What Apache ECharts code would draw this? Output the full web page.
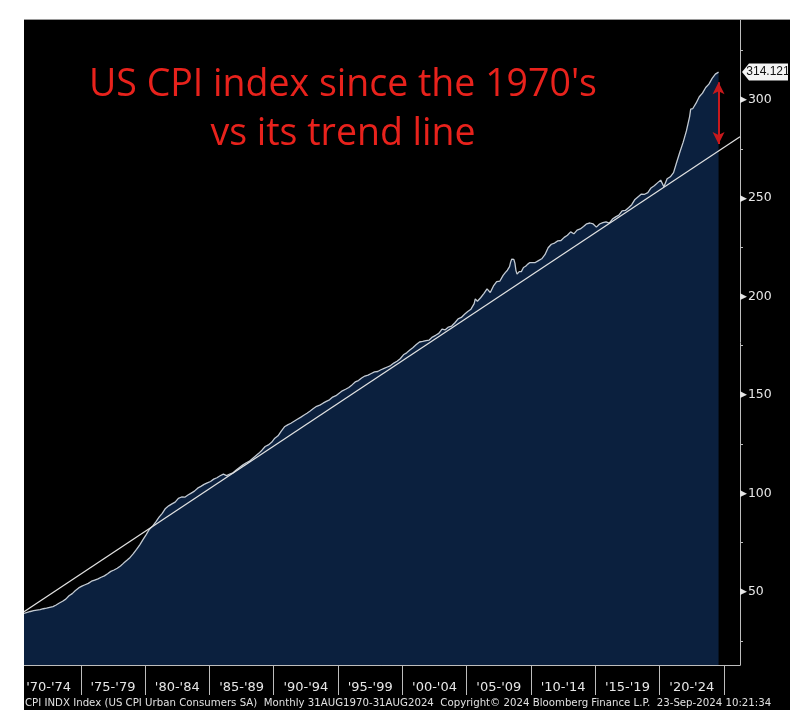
<!DOCTYPE html>
<html><head><meta charset="utf-8">
<script src="https://cdn.jsdelivr.net/npm/echarts@6/dist/echarts.min.js"></script>
<style>
html,body{margin:0;padding:0;background:#fff;}
#wrap{position:relative;width:800px;height:722px;background:#fff;overflow:hidden;}
#chart{position:absolute;left:24px;top:20px;width:766px;height:690px;background:#000;box-shadow:0 -1px 0 #9a9a9a;}
</style></head><body>
<div id="wrap"><div id="chart"></div></div>
<script>
// ---- data ----
const dates = [
'1970-08','1970-11',
'1971-02','1971-05','1971-08','1971-11','1972-02','1972-05','1972-08','1972-11',
'1973-02','1973-05','1973-08','1973-11','1974-02','1974-05','1974-08','1974-11',
'1975-02','1975-05','1975-08','1975-11','1976-02','1976-05','1976-08','1976-11',
'1977-02','1977-05','1977-08','1977-11','1978-02','1978-05','1978-08','1978-11',
'1979-02','1979-05','1979-08','1979-11','1980-02','1980-05','1980-08','1980-11',
'1981-02','1981-05','1981-08','1981-11','1982-02','1982-05','1982-08','1982-11',
'1983-02','1983-05','1983-08','1983-11','1984-02','1984-05','1984-08','1984-11',
'1985-02','1985-05','1985-08','1985-11','1986-02','1986-05','1986-08','1986-11',
'1987-02','1987-05','1987-08','1987-11','1988-02','1988-05','1988-08','1988-11',
'1989-02','1989-05','1989-08','1989-11','1990-02','1990-05','1990-08','1990-11',
'1991-02','1991-05','1991-08','1991-11','1992-02','1992-05','1992-08','1992-11',
'1993-02','1993-05','1993-08','1993-11','1994-02','1994-05','1994-08','1994-11',
'1995-02','1995-05','1995-08','1995-11','1996-02','1996-05','1996-08','1996-11',
'1997-02','1997-05','1997-08','1997-11','1998-02','1998-05','1998-08','1998-11',
'1999-02','1999-05','1999-08','1999-11','2000-02','2000-05','2000-08','2000-11',
'2001-02','2001-05','2001-08','2001-11','2002-02','2002-05','2002-08','2002-11',
'2003-02','2003-05','2003-08','2003-11','2004-02','2004-05','2004-08','2004-11',
'2005-02','2005-05','2005-08','2005-09','2005-10','2005-11',
'2006-02','2006-05','2006-08','2006-11','2007-02','2007-05','2007-08','2007-11',
'2008-01','2008-02','2008-03','2008-04','2008-05','2008-06','2008-07','2008-08','2008-09','2008-10','2008-11','2008-12',
'2009-01','2009-02','2009-03','2009-04','2009-05','2009-06','2009-07','2009-08','2009-09','2009-10','2009-11','2009-12',
'2010-02','2010-05','2010-08','2010-11','2011-02','2011-05','2011-08','2011-11',
'2012-02','2012-05','2012-08','2012-11','2013-02','2013-05','2013-08','2013-11',
'2014-02','2014-05','2014-08','2014-11','2015-02','2015-05','2015-08','2015-11',
'2016-02','2016-05','2016-08','2016-11','2017-02','2017-05','2017-08','2017-11',
'2018-02','2018-05','2018-08','2018-11','2019-02','2019-05','2019-08','2019-11',
'2020-02','2020-05','2020-08','2020-11','2021-02','2021-05','2021-08','2021-11',
'2022-02','2022-05','2022-06','2022-08','2022-11','2023-02','2023-05','2023-08','2023-11',
'2024-02','2024-05','2024-08'
];
const cpi = [
38.9,39.4,
39.9,40.3,40.6,40.8,41.3,41.6,42.0,42.4,
43.2,44.2,45.1,46.2,47.9,49.0,50.6,51.9,
52.8,53.5,54.2,55.3,55.9,56.5,57.3,58.0,
59.1,60.3,61.0,61.9,63.0,64.5,65.9,67.4,
69.3,71.5,73.8,76.4,79.0,81.7,83.3,85.5,
87.9,89.8,92.3,93.6,94.6,95.5,97.4,98.1,
98.0,99.1,100.1,101.1,102.6,103.5,104.5,105.3,
106.0,107.2,107.9,108.9,109.7,109.0,109.8,110.4,
111.8,113.1,114.3,115.4,116.2,117.6,119.0,120.3,
121.9,123.8,124.6,125.9,128.0,129.2,131.6,133.8,
134.8,135.6,136.6,137.6,138.6,139.7,140.7,141.8,
143.1,144.2,144.8,145.8,146.7,147.5,148.9,149.6,
150.9,152.1,152.9,153.8,155.1,156.6,157.3,158.6,
159.6,160.1,160.9,161.7,161.9,162.8,163.5,164.2,
164.9,166.2,167.1,168.4,170.4,171.4,172.8,174.1,
175.6,176.9,177.2,177.6,177.9,179.4,180.3,181.3,
183.5,183.1,184.5,185.0,186.7,188.7,189.4,191.0,
192.4,193.6,196.4,198.8,199.2,197.6,
199.4,201.5,203.9,202.1,205.4,207.6,207.9,210.8,
212.2,212.7,213.4,213.9,215.2,217.5,219.0,218.7,218.9,217.0,213.2,211.4,
211.9,212.7,212.5,212.7,213.0,214.8,214.7,215.4,215.9,216.5,217.2,217.3,
217.3,217.3,218.3,219.2,221.3,224.8,226.6,227.2,
228.3,228.5,230.1,231.2,232.9,231.9,233.8,234.4,
235.6,237.0,237.4,236.9,235.3,236.9,237.6,238.0,
237.3,239.4,240.5,241.4,243.6,243.8,245.2,246.7,
249.4,250.8,252.1,252.0,252.8,255.2,256.3,257.8,
259.2,255.8,259.9,260.9,263.0,268.4,273.6,278.5,
284.2,291.5,295.3,295.6,298.3,301.6,303.4,306.3,308.0,
310.9,313.1,314.121
];
const trendDates = ['1970-08','2026-04'];
const trendValues = [39.8, 281.2];
const periodLabels = ["'70-'74","'75-'79","'80-'84","'85-'89","'90-'94","'95-'99","'00-'04","'05-'09","'10-'14","'15-'19","'20-'24"];
const periodStarts = [1970,1975,1980,1985,1990,1995,2000,2005,2010,2015,2020];
const periodBoundaries = [1975,1980,1985,1990,1995,2000,2005,2010,2015,2020,2025];
const yLabelValues = [50,100,150,200,250,300];
const yTickValues = [25,50,75,100,125,150,175,200,225,250,275,300,325];
const gapArrow = {date:'2024-08', top:309, bottom:277.5};
const titleText = "US CPI index since the 1970's\nvs its trend line";
const footerText = "CPI INDX Index (US CPI Urban Consumers SA)  Monthly 31AUG1970-31AUG2024  Copyright\u00a9 2024 Bloomberg Finance L.P.  23-Sep-2024 10:21:34";

// ---- helpers ----
const toYear = s => { const [y, m] = s.split('-').map(Number); return y + (m - 1) / 12; };
const X_MIN = toYear('1970-08'), X_MAX = toYear('2026-04');
const Y_MIN = 12.7, Y_MAX = 340.6;
const lastIdx = cpi.length - 1;
const labelCenters = periodStarts.map(s => s + 2.5);
const labelMap = {};
labelCenters.forEach((c, i) => labelMap[c.toFixed(2)] = periodLabels[i]);

const chart = echarts.init(document.getElementById('chart'), null, {renderer: 'canvas'});
chart.setOption({
  backgroundColor: '#000',
  animation: false,
  title: [
    {text: titleText, left: 319, top: 41, textAlign: 'center', padding: 0,
     textStyle: {color: '#e8221c', fontSize: 37.5, fontWeight: 'normal', fontFamily: 'Open Sans', lineHeight: 49}},
    {text: footerText, left: 1, bottom: 2, padding: 0,
     textStyle: {color: '#e0e0e0', fontSize: 10.2, fontWeight: 'normal', fontFamily: 'DejaVu Sans'}}
  ],
  grid: {left: 0, right: 50, top: 0, bottom: 45, containLabel: false, outerBoundsMode: 'none'},
  xAxis: {
    type: 'value', min: X_MIN, max: X_MAX,
    splitLine: {show: false},
    axisLine: {show: true, lineStyle: {color: '#bdbdbd', width: 1}},
    axisTick: {show: true, customValues: periodBoundaries, length: 30, lineStyle: {color: '#bdbdbd', width: 1}},
    axisLabel: {customValues: labelCenters, formatter: v => labelMap[v.toFixed(2)] || '',
      color: '#e6e6e6', fontSize: 13, fontFamily: 'DejaVu Sans', margin: 16}
  },
  yAxis: {
    type: 'value', position: 'right', min: Y_MIN, max: Y_MAX,
    splitLine: {show: false},
    axisLine: {show: true, lineStyle: {color: '#bdbdbd', width: 1}},
    axisTick: {show: true, customValues: yTickValues, length: 3, lineStyle: {color: '#bdbdbd'}},
    axisLabel: {customValues: yLabelValues, margin: 0,
      formatter: v => '{t|\u25B6}{v|' + v + '}',
      rich: {t: {fontSize: 9, color: '#e6e6e6', fontFamily: 'DejaVu Sans'},
             v: {fontSize: 12.5, color: '#e6e6e6', fontFamily: 'DejaVu Sans', padding: [0, 0, 0, 1]}}}
  },
  series: [
    {
      type: 'line', name: 'CPI', showSymbol: false, symbol: 'none', z: 2,
      data: dates.map((d, i) => [toYear(d), cpi[i]]),
      lineStyle: {color: '#c3cad2', width: 1.3},
      areaStyle: {color: '#0b203e', opacity: 1, origin: 'start'},
      markPoint: {
        silent: true,
        symbol: 'path://M0,8L7,0L46,0L46,16L7,16Z',
        symbolSize: [46, 17], symbolOffset: [25, 0],
        itemStyle: {color: '#f4f4f4'},
        label: {show: true, color: '#111', fontSize: 12, fontFamily: 'Liberation Sans', offset: [3, 0],
                formatter: () => String(cpi[lastIdx])},
        data: [{coord: [X_MAX, cpi[lastIdx]]}]
      },
      markLine: {
        silent: true, symbol: ['arrow', 'arrow'], symbolSize: [9, 12],
        label: {show: false},
        lineStyle: {color: '#c8191c', width: 2, type: 'solid'},
        data: [[{coord: [toYear(gapArrow.date), gapArrow.top]}, {coord: [toYear(gapArrow.date), gapArrow.bottom]}]]
      }
    },
    {
      type: 'line', name: 'Trend', showSymbol: false, symbol: 'none', z: 3,
      data: trendDates.map((d, i) => [toYear(d), trendValues[i]]),
      lineStyle: {color: '#e2e2e2', width: 1.2}
    }
  ]
});
</script>
</body></html>
